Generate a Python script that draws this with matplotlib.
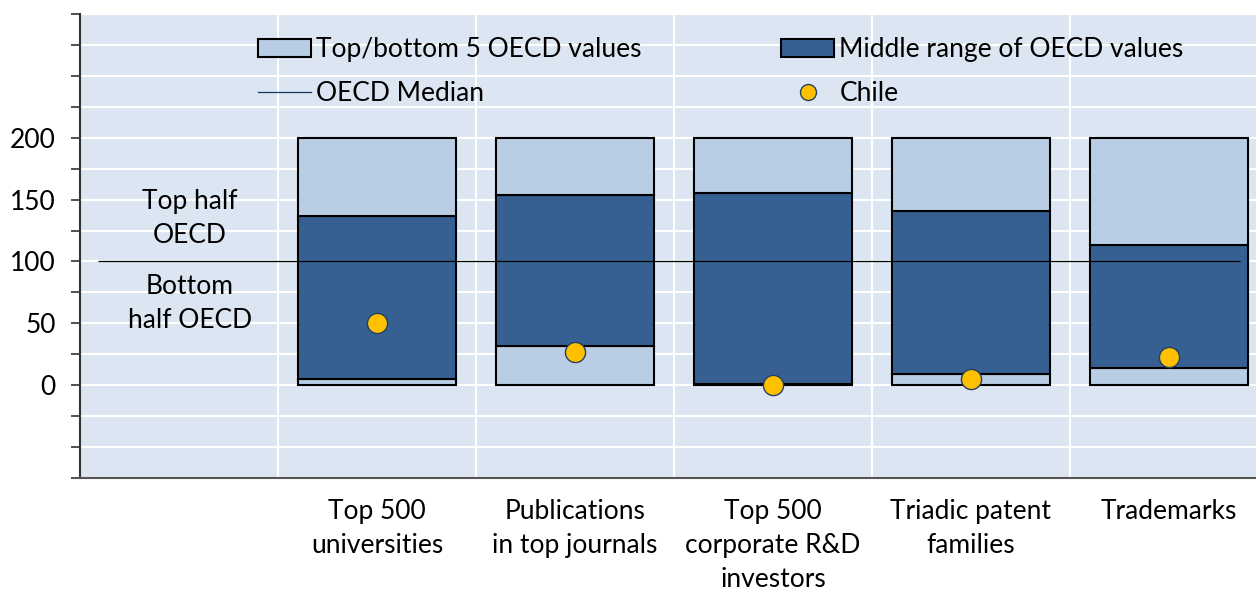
import matplotlib
matplotlib.use("Agg")
import matplotlib.pyplot as plt
from matplotlib.patches import Patch
from matplotlib.lines import Line2D
import numpy as np

plt.rcParams['font.family'] = ['Lato', 'DejaVu Sans']

categories = ["", "Top 500\nuniversities", "Publications\nin top journals",
              "Top 500\ncorporate R&D\ninvestors", "Triadic patent\nfamilies", "Trademarks"]
bottom5_top = [None, 5, 32, 1, 9, 14]      # top of lower light segment
middle_top = [None, 137, 154, 155, 141, 113]  # top of dark segment
max_value = [None, 200, 200, 200, 200, 200]
chile = [None, 50, 27, 0, 5, 23]
median = 100

light = "#B9CDE5"
dark = "#376092"
bg = "#DCE6F2"
gold = "#FFC000"
FS = 19

fig = plt.figure(figsize=(12.56, 5.92), dpi=100)
ax = fig.add_axes([80/1256, (592-478)/592, 1 - 80/1256, (478-14)/592])
ax.set_facecolor(bg)

x = np.arange(len(categories))
w = 0.8
for i in range(1, len(categories)):
    lo, mid, hi = bottom5_top[i], middle_top[i], max_value[i]
    ax.bar(x[i], lo, width=w, bottom=0, color=light, edgecolor="black", linewidth=1.5, zorder=3)
    ax.bar(x[i], mid - lo, width=w, bottom=lo, color=dark, edgecolor="black", linewidth=1.5, zorder=3)
    ax.bar(x[i], hi - mid, width=w, bottom=mid, color=light, edgecolor="black", linewidth=1.5, zorder=3)

ax.hlines(median, -0.41, 5.36, color="black", linewidth=0.9, zorder=4)
ax.plot(x[1:], chile[1:], linestyle="none", marker="o", markersize=14.5,
        markerfacecolor=gold, markeredgecolor="#243F60", markeredgewidth=1.0, zorder=5)

ax.set_xlim(-0.5, 5.44)
ax.set_ylim(-75, 300)

yt = np.arange(-75, 301, 25)
ax.set_yticks(yt)
ax.set_yticklabels([str(v) if (v >= 0 and v <= 200 and v % 50 == 0) else "" for v in yt])
ax.set_xticks(x)
ax.set_xticklabels(categories, linespacing=1.45)
ax.set_xticks(np.arange(0.5, 5.5, 1), minor=True)
ax.tick_params(axis="x", which="both", length=0, pad=15, labelsize=FS)
ax.tick_params(axis="y", length=6.5, width=1.2, color="#333333", labelsize=FS, pad=11)

ax.grid(True, axis="y", which="major", color="white", linewidth=1.5, zorder=0)
ax.grid(True, axis="x", which="minor", color="white", linewidth=1.5, zorder=0)
ax.set_axisbelow(True)
for s in ["top", "right"]:
    ax.spines[s].set_visible(False)
ax.spines["left"].set_color("#333333")
ax.spines["left"].set_linewidth(1.5)
ax.spines["bottom"].set_color("#555555")
ax.spines["bottom"].set_linewidth(1.5)

ax.text(0.056, 135, "Top half\nOECD", ha="center", va="center", fontsize=FS, linespacing=1.45)
ax.text(0.056, 66, "Bottom\nhalf OECD", ha="center", va="center", fontsize=FS, linespacing=1.45)

handles = [
    Patch(facecolor=light, edgecolor="black", linewidth=1.5),
    Line2D([], [], color="#17375E", linewidth=0.9),
    Patch(facecolor=dark, edgecolor="black", linewidth=1.5),
    Line2D([], [], linestyle="none", marker="o", markersize=11.5,
           markerfacecolor=gold, markeredgecolor="#243F60"),
]
labels = ["Top/bottom 5 OECD values", "OECD Median", "Middle range of OECD values", "Chile"]
leg = ax.legend(handles, labels, ncol=2, loc="upper left",
                bbox_to_anchor=((258-80)/1176, 1 - 23/464), frameon=False,
                fontsize=FS, handlelength=2.0, handleheight=0.65, handletextpad=0.2,
                columnspacing=5.3, labelspacing=0.72, borderpad=0, borderaxespad=0)

fig.savefig("out.png", dpi=100, facecolor="white")
